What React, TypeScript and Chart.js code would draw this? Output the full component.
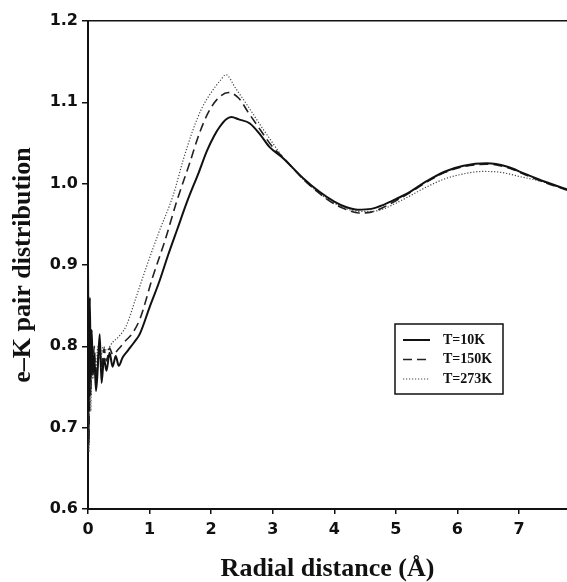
import React, { useEffect, useRef } from "react";
import { Chart, registerables } from "chart.js";

Chart.register(...registerables);

// ---- Data ----
const seriesLabels = ["T=10K", "T=150K", "T=273K"];

const solidX = [0, 0.015, 0.03, 0.045, 0.06, 0.08, 0.1, 0.13, 0.16, 0.19, 0.22, 0.26, 0.3, 0.35, 0.4, 0.45, 0.5, 0.56, 0.65, 0.75, 0.84, 1.0, 1.16, 1.3, 1.45, 1.62, 1.8, 1.93, 2.05, 2.14, 2.24, 2.33, 2.45, 2.63, 2.8, 2.95, 3.16, 3.49, 3.76, 4.0, 4.2, 4.38, 4.6, 4.8, 5.0, 5.23, 5.5, 5.8, 6.1, 6.48, 6.8, 7.1, 7.4, 7.78];
const solidY = [0.905, 0.72, 0.86, 0.76, 0.82, 0.765, 0.79, 0.745, 0.775, 0.815, 0.755, 0.785, 0.77, 0.792, 0.775, 0.788, 0.776, 0.786, 0.795, 0.805, 0.815, 0.848, 0.88, 0.912, 0.944, 0.98, 1.014, 1.04, 1.059, 1.07, 1.079, 1.082, 1.079, 1.074, 1.06, 1.045, 1.032, 1.007, 0.99, 0.978, 0.971, 0.968, 0.969, 0.974, 0.981, 0.99, 1.003, 1.015, 1.022, 1.025, 1.021, 1.012, 1.003, 0.993];

const dashedX = [0, 0.015, 0.03, 0.045, 0.06, 0.08, 0.1, 0.13, 0.16, 0.19, 0.22, 0.26, 0.3, 0.35, 0.4, 0.5, 0.6, 0.73, 0.85, 1.05, 1.25, 1.44, 1.65, 1.81, 1.95, 2.1, 2.28, 2.45, 2.6, 2.8, 3.0, 3.16, 3.49, 3.76, 4.0, 4.2, 4.4, 4.6, 4.8, 5.0, 5.23, 5.5, 5.8, 6.1, 6.48, 6.8, 7.1, 7.4, 7.78];
const dashedY = [0.88, 0.68, 0.83, 0.74, 0.8, 0.77, 0.8, 0.76, 0.785, 0.8, 0.772, 0.797, 0.782, 0.798, 0.79, 0.797, 0.806, 0.817, 0.835, 0.885, 0.93, 0.978, 1.025, 1.062, 1.087, 1.104, 1.112, 1.105, 1.088, 1.066, 1.045, 1.033, 1.006, 0.988, 0.975, 0.968, 0.964, 0.965, 0.971, 0.979, 0.989, 1.002, 1.014, 1.021, 1.024, 1.02, 1.011, 1.002, 0.992];

const dottedX = [0, 0.015, 0.03, 0.045, 0.06, 0.08, 0.1, 0.13, 0.16, 0.2, 0.25, 0.3, 0.4, 0.5, 0.62, 0.78, 0.95, 1.15, 1.38, 1.55, 1.7, 1.85, 2.0, 2.15, 2.24, 2.4, 2.6, 2.8, 3.0, 3.16, 3.49, 3.76, 4.0, 4.2, 4.4, 4.6, 4.8, 5.0, 5.23, 5.5, 5.8, 6.1, 6.4, 6.7, 7.0, 7.4, 7.78];
const dottedY = [0.86, 0.67, 0.8, 0.72, 0.79, 0.76, 0.79, 0.77, 0.8, 0.785, 0.8, 0.795, 0.805, 0.812, 0.825, 0.86, 0.898, 0.94, 0.985, 1.03, 1.065, 1.093, 1.112, 1.127, 1.134, 1.117, 1.095, 1.072, 1.05, 1.033, 1.006, 0.988, 0.976, 0.969, 0.966, 0.966, 0.969, 0.976, 0.985, 0.996, 1.006, 1.012, 1.015, 1.014, 1.009, 1.002, 0.992];

const xMin = 0;
const xMax = 7.78;
const yMin = 0.6;
const yMax = 1.2;
const xStep = 1;
const yStep = 0.1;

const toPoints = (xs: number[], ys: number[]) => xs.map((x, i) => ({ x, y: ys[i] }));

const boxLegend = {
  id: "boxLegend",
  afterDraw(chart: any) {
    const ctx = chart.ctx as CanvasRenderingContext2D;
    ctx.save();
    const bx = 395, by = 324, bw = 108, bh = 70;
    ctx.setLineDash([]);
    ctx.strokeStyle = "#111";
    ctx.lineWidth = 1.5;
    ctx.strokeRect(bx, by, bw, bh);
    chart.data.datasets.forEach((ds: any, i: number) => {
      const y = 340 + i * 19.5;
      ctx.beginPath();
      ctx.setLineDash(ds.borderDash || []);
      ctx.lineWidth = ds.borderWidth;
      ctx.strokeStyle = ds.borderColor;
      ctx.moveTo(403, y);
      ctx.lineTo(430, y);
      ctx.stroke();
      ctx.setLineDash([]);
      ctx.fillStyle = "#111";
      ctx.font = "bold 14px 'Liberation Serif'";
      ctx.textBaseline = "middle";
      ctx.textAlign = "left";
      ctx.fillText(ds.label, 443, y);
    });
    ctx.restore();
  },
};

export default function App() {
  const ref = useRef<HTMLCanvasElement | null>(null);

  useEffect(() => {
    if (!ref.current) return;
    const tickFont = { family: "'DejaVu Sans'", size: 16, weight: "bold" as const };
    const chart = new Chart(ref.current, {
      type: "line",
      data: {
        datasets: [
          {
            label: seriesLabels[0],
            data: toPoints(solidX, solidY),
            borderColor: "#111",
            borderWidth: 2,
            pointRadius: 0,
            cubicInterpolationMode: "monotone",
            fill: false,
          },
          {
            label: seriesLabels[1],
            data: toPoints(dashedX, dashedY),
            borderColor: "#222",
            borderWidth: 1.6,
            borderDash: [9, 5],
            pointRadius: 0,
            cubicInterpolationMode: "monotone",
            fill: false,
          },
          {
            label: seriesLabels[2],
            data: toPoints(dottedX, dottedY),
            borderColor: "#444",
            borderWidth: 1.2,
            borderDash: [1.2, 1.8],
            pointRadius: 0,
            cubicInterpolationMode: "monotone",
            fill: false,
          },
        ],
      },
      options: {
        responsive: false,
        animation: false,
        devicePixelRatio: 1,
        layout: { padding: 0 },
        plugins: {
          legend: { display: false },
          tooltip: { enabled: false },
        },
        scales: {
          x: {
            type: "linear",
            position: "bottom",
            min: xMin,
            max: xMax,
            afterFit: (s: any) => { s.height = 73; },
            ticks: {
              stepSize: xStep,
              includeBounds: false,
              color: "#111",
              font: tickFont,
              padding: 6,
              maxRotation: 0,
              callback: (v: any) => String(Math.round(Number(v))),
            },
            grid: { drawOnChartArea: false, tickLength: 5, color: "#111", lineWidth: 1.5 },
            border: { display: true, color: "#111", width: 2 },
            title: {
              display: true,
              text: "Radial distance (Å)",
              color: "#111",
              font: { family: "'Liberation Serif'", size: 26, weight: "bold", lineHeight: 1 },
              padding: { top: 0, bottom: 0 },
            },
          },
          x2: {
            type: "linear",
            position: "top",
            min: xMin,
            max: xMax,
            afterFit: (s: any) => { s.height = 21; },
            ticks: { display: false },
            grid: { display: false },
            border: { display: true, color: "#111", width: 1.5 },
          },
          y: {
            type: "linear",
            min: yMin,
            max: yMax,
            afterFit: (s: any) => { s.width = 88; },
            ticks: {
              stepSize: yStep,
              color: "#111",
              font: tickFont,
              padding: 4,
              callback: (v: any) => Number(v).toFixed(1),
            },
            grid: { drawOnChartArea: false, tickLength: 6, color: "#111", lineWidth: 1.5 },
            border: { display: true, color: "#111", width: 2 },
            title: {
              display: true,
              text: "e–K pair distribution",
              color: "#111",
              font: { family: "'Liberation Serif'", size: 26, weight: "bold", lineHeight: 1 },
              padding: { top: 10, bottom: 0 },
            },
          },
        },
      },
      plugins: [boxLegend],
    });
    return () => chart.destroy();
  }, []);

  return (
    <div style={{ position: "absolute", left: 0, top: 0, width: 567, height: 582, background: "#fff" }}>
      <canvas ref={ref} width={567} height={582} style={{ display: "block" }} />
    </div>
  );
}
